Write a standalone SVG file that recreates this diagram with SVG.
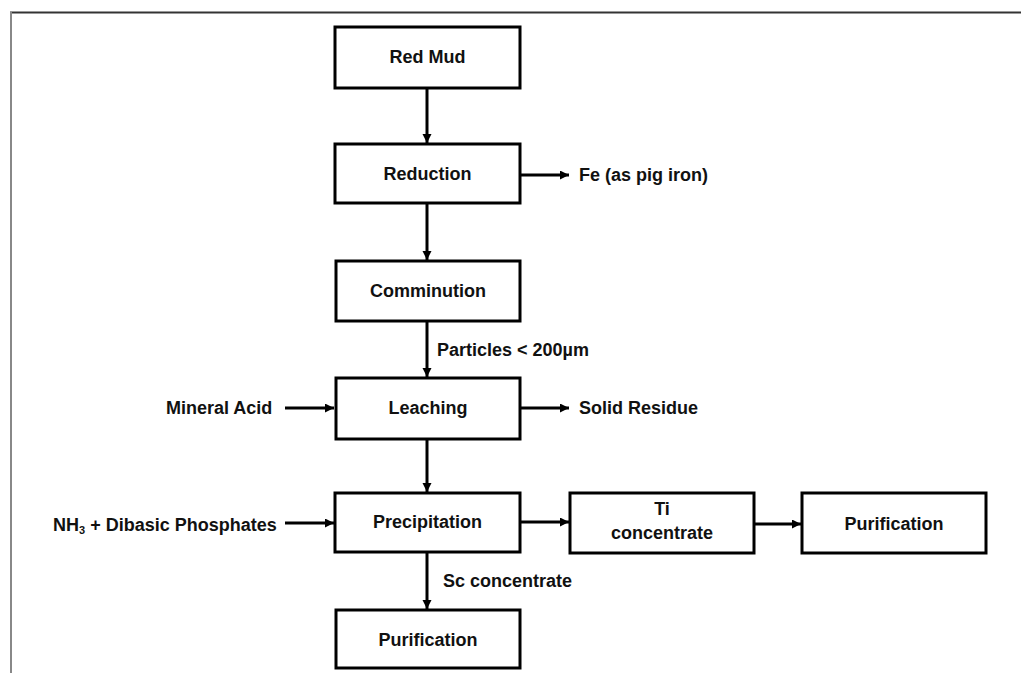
<svg xmlns="http://www.w3.org/2000/svg" width="1021" height="673" viewBox="0 0 1021 673">
  <style>
    .box { fill: #ffffff; stroke: #000000; stroke-width: 3; }
    .lbl { font-family: "Liberation Sans", Arial, sans-serif; font-weight: bold; font-size: 18px; fill: #111111; }
    .mid { text-anchor: middle; }
    .conn { stroke: #000000; stroke-width: 3; fill: none; marker-end: url(#arrow); }
  </style>
  <defs>
    <marker id="arrow" markerUnits="userSpaceOnUse" markerWidth="10" markerHeight="10" refX="9" refY="4.5" orient="auto">
      <path d="M0,0 L9,4.5 L0,9 z" fill="#000000"/>
    </marker>
  </defs>
  <rect x="0" y="0" width="1021" height="673" fill="#ffffff"/>
  <g id="frame">
    <line x1="10" y1="12.5" x2="1021" y2="12.5" stroke="#333333" stroke-width="2"/>
    <line x1="11" y1="12" x2="11" y2="673" stroke="#888888" stroke-width="2"/>
  </g>

  <g id="connectors">
    <line class="conn" x1="427" y1="88" x2="427" y2="143"/>
    <line class="conn" x1="427" y1="203" x2="427" y2="260"/>
    <line class="conn" x1="427" y1="321" x2="427" y2="377"/>
    <line class="conn" x1="427" y1="439" x2="427" y2="492"/>
    <line class="conn" x1="427" y1="552" x2="427" y2="609"/>
    <line class="conn" x1="520" y1="175" x2="569" y2="175"/>
    <line class="conn" x1="520" y1="408" x2="569" y2="408"/>
    <line class="conn" x1="285" y1="408" x2="334" y2="408"/>
    <line class="conn" x1="285" y1="523" x2="334" y2="523"/>
    <line class="conn" x1="520" y1="522" x2="569" y2="522"/>
    <line class="conn" x1="754" y1="524" x2="801" y2="524"/>
  </g>

  <g id="red-mud">
    <rect class="box" x="335" y="27" width="185" height="61"/>
    <text class="lbl mid" x="427.5" y="63">Red Mud</text>
  </g>
  <g id="reduction">
    <rect class="box" x="335" y="144" width="185" height="59"/>
    <text class="lbl mid" x="427.5" y="180">Reduction</text>
  </g>
  <g id="fe-output">
    <text class="lbl" x="579" y="181">Fe (as pig iron)</text>
  </g>
  <g id="comminution">
    <rect class="box" x="336" y="261" width="184" height="60"/>
    <text class="lbl mid" x="428" y="297">Comminution</text>
  </g>
  <g id="particles-label">
    <text class="lbl" x="437" y="356">Particles &lt; 200µm</text>
  </g>
  <g id="leaching">
    <rect class="box" x="336" y="378" width="184" height="61"/>
    <text class="lbl mid" x="428" y="414">Leaching</text>
  </g>
  <g id="mineral-acid">
    <text class="lbl" x="166" y="414">Mineral Acid</text>
  </g>
  <g id="solid-residue">
    <text class="lbl" x="579" y="414">Solid Residue</text>
  </g>
  <g id="precipitation">
    <rect class="box" x="335" y="493" width="185" height="59"/>
    <text class="lbl mid" x="427.5" y="528">Precipitation</text>
  </g>
  <g id="nh3-input">
    <text class="lbl" x="53" y="531">NH<tspan font-size="11" dy="3">3</tspan><tspan dy="-3"> + Dibasic Phosphates</tspan></text>
  </g>
  <g id="ti-concentrate">
    <rect class="box" x="570" y="493" width="184" height="60"/>
    <text class="lbl mid" x="662" y="515">Ti</text>
    <text class="lbl mid" x="662" y="539">concentrate</text>
  </g>
  <g id="purification-ti">
    <rect class="box" x="802" y="493" width="184" height="60"/>
    <text class="lbl mid" x="894" y="530">Purification</text>
  </g>
  <g id="sc-label">
    <text class="lbl" x="443" y="587">Sc concentrate</text>
  </g>
  <g id="purification-sc">
    <rect class="box" x="336" y="610" width="184" height="58"/>
    <text class="lbl mid" x="428" y="646">Purification</text>
  </g>
</svg>
